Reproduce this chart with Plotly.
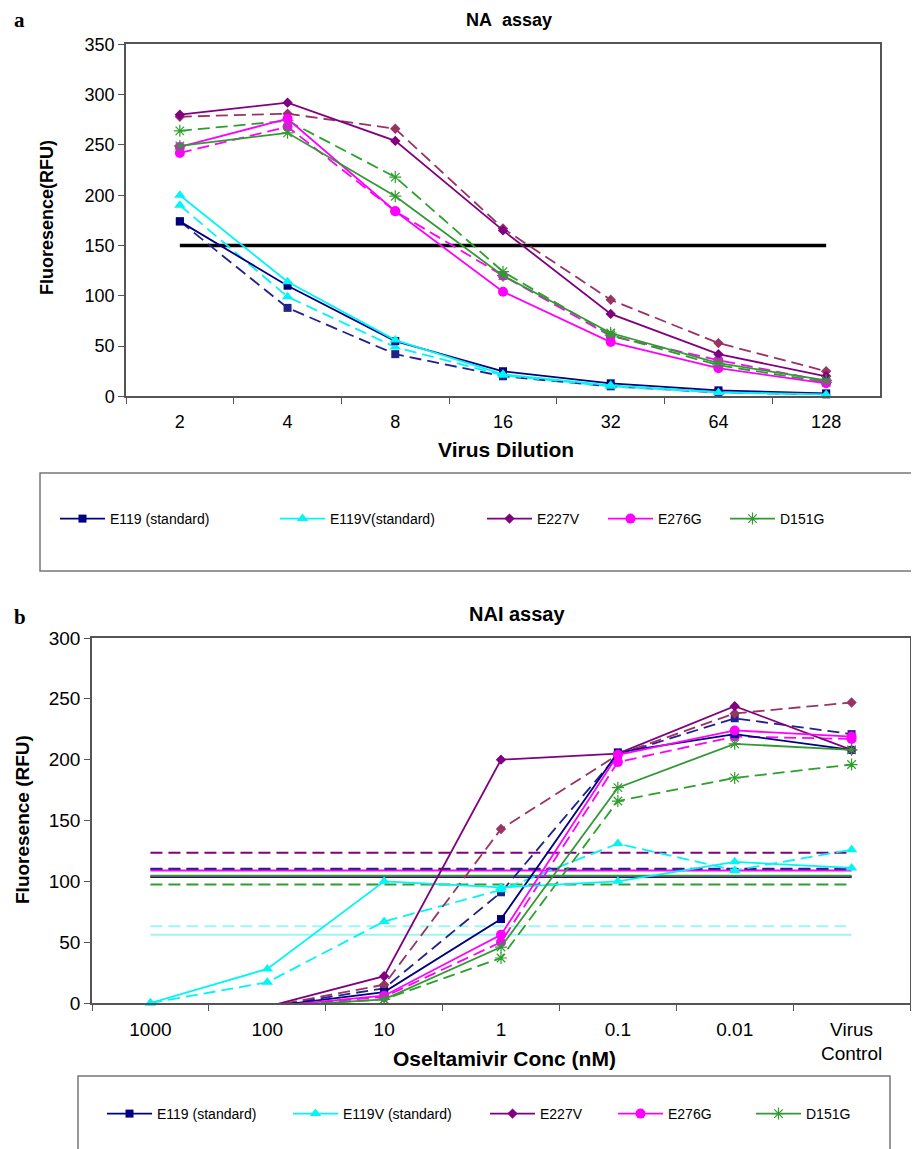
import plotly.graph_objects as go

W, H = 919, 1149

# ---------------- data: panel a (NA assay) ----------------
dilutions = ["2", "4", "8", "16", "32", "64", "128"]
a_E119 = [174, 110, 55, 25, 13, 6, 3]
a_E119_d = [174, 88, 42, 20, 10, 4, 2]
a_E119V = [200, 114, 56, 22, 11, 4, 2]
a_E119V_d = [190, 99, 49, 21, 10, 4, 2]
a_E227V = [280, 292, 254, 165, 82, 42, 20]
a_E227V_d = [278, 281, 266, 167, 96, 53, 25]
a_E276G = [248, 276, 184, 104, 54, 28, 13]
a_E276G_d = [242, 268, 184, 120, 60, 36, 15]
a_D151G = [249, 262, 199, 120, 63, 33, 16]
a_D151G_d = [264, 274, 218, 124, 61, 31, 14]
a_cutoff = 150

# ---------------- data: panel b (NAI assay) ----------------
conc = ["1000", "100", "10", "1", "0.1", "0.01", "Virus<br>Control"]
b_E119 = [None, -3, 9, 69, 206, 221, 208]
b_E119_d = [None, -3, 12, 91, 204, 234, 221]
b_E119V = [0, 28, 100, 95, 100, 116, 111]
b_E119V_d = [0, 17, 67, 93, 131, 109, 126]
b_E227V = [None, -3, 22, 200, 205, 244, 208]
b_E227V_d = [None, -3, 15, 143, 204, 238, 247]
b_E276G = [None, -3, 6, 56, 204, 224, 219]
b_E276G_d = [None, -3, 5, 50, 198, 219, 217]
b_D151G = [None, -3, 3, 46, 177, 213, 208]
b_D151G_d = [None, -3, 3, 37, 166, 185, 196]
# 50% cut-off lines
b_cut_E119 = 103.5
b_cut_E119_d = 110.3
b_cut_E119V = 56
b_cut_E119V_d = 63
b_cut_E227V = 104
b_cut_E227V_d = 123.5
b_cut_E276G = 109
b_cut_E276G_d = 110
b_cut_D151G = 104.5
b_cut_D151G_d = 97.5

names = ["E119 (standard)", "E119V(standard)", "E227V", "E276G", "D151G"]
names_b = ["E119 (standard)", "E119V (standard)", "E227V", "E276G", "D151G"]

# ---------------- styles ----------------
NAVY, NAVY_D = "#000080", "#22228c"
CYAN = "#00f5f5"
PURP, MAUVE = "#800080", "#993366"
MAG = "#ff00ff"
GRN, GRN_D = "#339933", "#2ca02c"
PALE_CYAN = "#9ff5f5"

sym = {"E119": ("square", 8), "E119V": ("triangle-up", 10), "E227V": ("diamond", 8),
       "E276G": ("circle", 10), "D151G": ("asterisk-open", 10)}
DASH = "12px,6px"

fig = go.Figure()


def add(x, y, color, key, dashed, xa, ya, name=None, legend=None, clip=False, width=1.8):
    s, sz = sym[key]
    mk = dict(symbol=s, size=sz, color=color)
    if s == "asterisk-open":
        mk["line"] = dict(color=color, width=1.2)
    fig.add_trace(go.Scatter(
        x=x, y=y, mode="lines+markers", xaxis=xa, yaxis=ya,
        line=dict(color=color, width=width, dash=DASH if dashed else "solid"),
        marker=mk, name=name if name else "", showlegend=bool(name),
        legend=legend if legend else "legend", cliponaxis=clip, connectgaps=False))


# panel a
fig.add_trace(go.Scatter(x=[dilutions[0], dilutions[-1]], y=[a_cutoff, a_cutoff], mode="lines",
                         line=dict(color="black", width=3.5), showlegend=False, xaxis="x", yaxis="y"))
add(dilutions, a_E119_d, NAVY_D, "E119", True, "x", "y")
add(dilutions, a_E119V_d, CYAN, "E119V", True, "x", "y")
add(dilutions, a_E227V_d, MAUVE, "E227V", True, "x", "y")
add(dilutions, a_E276G_d, MAG, "E276G", True, "x", "y")
add(dilutions, a_D151G_d, GRN_D, "D151G", True, "x", "y")
add(dilutions, a_E119, NAVY, "E119", False, "x", "y", names[0], "legend")
add(dilutions, a_E119V, CYAN, "E119V", False, "x", "y", names[1], "legend2")
add(dilutions, a_E227V, PURP, "E227V", False, "x", "y", names[2], "legend3")
add(dilutions, a_E276G, MAG, "E276G", False, "x", "y", names[3], "legend4")
add(dilutions, a_D151G, GRN, "D151G", False, "x", "y", names[4], "legend5")

# panel b cut-off lines
cuts = [(b_cut_E119V, PALE_CYAN, "solid"), (b_cut_E119V_d, PALE_CYAN, DASH),
        (b_cut_D151G_d, GRN_D, DASH), (b_cut_E119, NAVY, "solid"), (b_cut_E227V, PURP, "solid"),
        (b_cut_D151G, GRN, "solid"), (b_cut_E276G, MAG, "solid"), (b_cut_E276G_d, MAG, DASH),
        (b_cut_E119_d, NAVY_D, DASH), (b_cut_E227V_d, PURP, DASH)]
for v, c, d in cuts:
    fig.add_trace(go.Scatter(x=[conc[0], conc[-1]], y=[v, v], mode="lines",
                             line=dict(color=c, width=2, dash=d), showlegend=False,
                             xaxis="x2", yaxis="y2"))

add(conc, b_E119_d, NAVY_D, "E119", True, "x2", "y2", clip=True)
add(conc, b_E119V_d, CYAN, "E119V", True, "x2", "y2")
add(conc, b_E227V_d, MAUVE, "E227V", True, "x2", "y2", clip=True)
add(conc, b_E276G_d, MAG, "E276G", True, "x2", "y2", clip=True)
add(conc, b_D151G_d, GRN_D, "D151G", True, "x2", "y2", clip=True)
add(conc, b_E119, NAVY, "E119", False, "x2", "y2", names_b[0], "legend6", clip=True)
add(conc, b_E119V, CYAN, "E119V", False, "x2", "y2", names_b[1], "legend7")
add(conc, b_E227V, PURP, "E227V", False, "x2", "y2", names_b[2], "legend8", clip=True)
add(conc, b_E276G, MAG, "E276G", False, "x2", "y2", names_b[3], "legend9", clip=True)
add(conc, b_D151G, GRN, "D151G", False, "x2", "y2", names_b[4], "legend10", clip=True)

FONT = "Liberation Sans, Arial, sans-serif"
AX = "#555555"
OFF = 8  # page body margin


def px(x):
    return (x - OFF) / W


def py(y):
    return 1 - (y - OFF) / H


xa_common = dict(type="category", range=[-0.5, 6.5], tickson="boundaries", ticks="outside",
                 ticklen=6, tickcolor=AX, showline=True, linecolor=AX, linewidth=1.5,
                 mirror=True, showgrid=False, zeroline=False, automargin=False,
                 ticklabelstandoff=8)
ya_common = dict(ticks="outside", ticklen=6, tickcolor=AX, showline=True, linecolor=AX,
                 linewidth=1.5, mirror=True, showgrid=False, zeroline=False, dtick=50,
                 automargin=False)

fig.update_layout(
    template="none",
    width=W, height=H, margin=dict(l=0, r=0, t=0, b=0, pad=0, autoexpand=False),
    paper_bgcolor="white", plot_bgcolor="white",
    font=dict(family=FONT, color="black"),
    xaxis=dict(xa_common, domain=[px(126), px(880)], anchor="y",
               categoryorder="array", categoryarray=dilutions, tickfont=dict(size=18)),
    yaxis=dict(ya_common, domain=[py(396.4), py(44.3)], anchor="x", range=[0, 350],
               tickfont=dict(size=18)),
    xaxis2=dict(xa_common, domain=[px(92), px(910)], anchor="y2",
                categoryorder="array", categoryarray=conc, tickfont=dict(size=19)),
    yaxis2=dict(ya_common, domain=[py(1003), py(638)], anchor="x2", range=[0, 300],
                tickfont=dict(size=19)),
)

# legends (one per item, placed like the original legend rows)
leg_a_x = [55, 275, 482, 603, 725]
leg_b_x = [102, 288, 485, 613, 751]
for i, lx in enumerate(leg_a_x):
    key = "legend" if i == 0 else f"legend{i + 1}"
    fig.update_layout({key: dict(x=px(lx), y=py(519), xanchor="left", yanchor="middle",
                                 bgcolor="rgba(0,0,0,0)", borderwidth=0, itemwidth=45,
                                 font=dict(family=FONT, size=14))})
for i, lx in enumerate(leg_b_x):
    key = f"legend{i + 6}"
    fig.update_layout({key: dict(x=px(lx), y=py(1114), xanchor="left", yanchor="middle",
                                 bgcolor="rgba(0,0,0,0)", borderwidth=0, itemwidth=45,
                                 font=dict(family=FONT, size=14))})

# legend boxes
fig.add_shape(type="rect", xref="paper", yref="paper", x0=px(40), x1=px(918), y0=py(571), y1=py(473),
              line=dict(color="#777777", width=1.5), fillcolor="rgba(0,0,0,0)", layer="below")
fig.add_shape(type="rect", xref="paper", yref="paper", x0=px(78), x1=px(890), y0=py(1160), y1=py(1076),
              line=dict(color="#777777", width=1.5), fillcolor="rgba(0,0,0,0)", layer="below")


def note(text, x, y, size, angle=0, family=FONT, xanchor="center"):
    fig.add_annotation(text=text, x=px(x), y=py(y), xref="paper", yref="paper", showarrow=False,
                       textangle=angle, xanchor=xanchor, yanchor="middle",
                       font=dict(family=family, size=size, weight="bold"))


# titles, axis titles and panel letters
note("NA\u00a0 assay", 509, 20, 18)
note("NAI assay", 517, 614, 20)
note("Virus Dilution", 506, 449, 21)
note("Fluoresence(RFU)", 47, 218, 18, angle=-90)
note("Oseltamivir Conc (nM)", 505, 1058, 21)
note("Fluoresence (RFU)", 22, 820, 19, angle=-90)
SERIF = "Liberation Serif, DejaVu Serif, serif"
note("a", 12, 20, 21, family=SERIF, xanchor="left")
note("b", 12, 617, 21, family=SERIF, xanchor="left")

fig.write_html("out.html")
